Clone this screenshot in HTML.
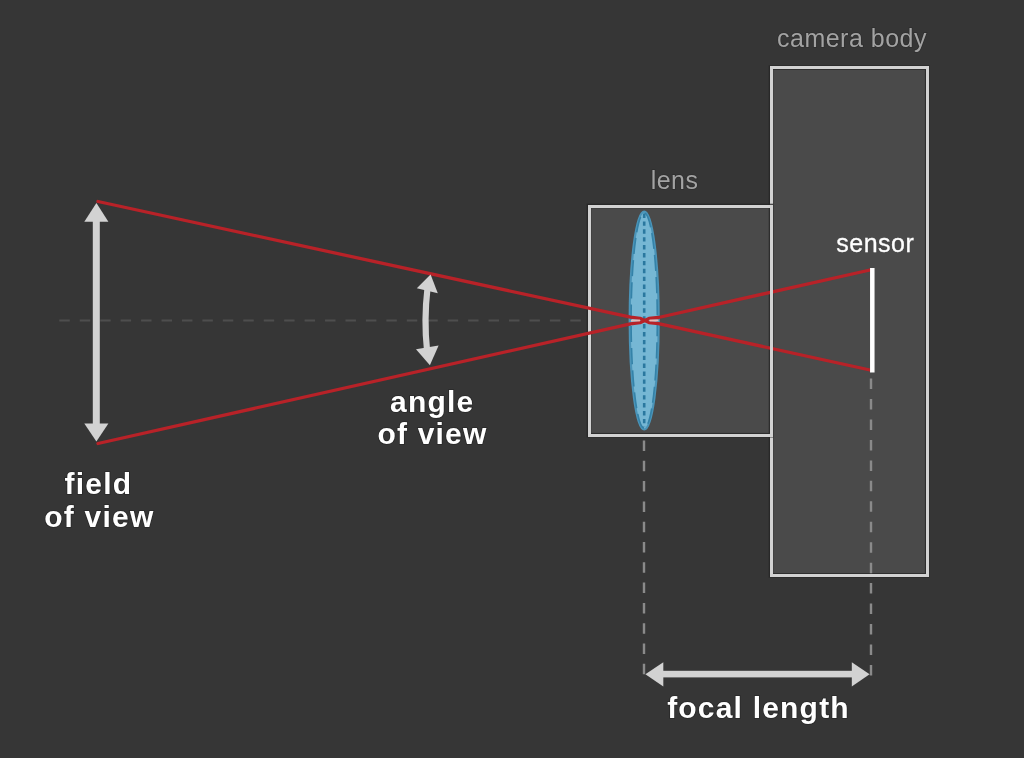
<!DOCTYPE html>
<html><head><meta charset="utf-8">
<style>
html,body{margin:0;padding:0;background:#363636;width:1024px;height:758px;overflow:hidden}
svg{display:block;will-change:transform}
text{font-family:"Liberation Sans",sans-serif}
.t{opacity:0.999}
.b{font-weight:bold;font-size:30px;fill:#ffffff;letter-spacing:1.2px;stroke:#222;stroke-width:1.6px;paint-order:stroke;stroke-opacity:0.7}
.g{font-size:25px;fill:#a3a3a3;letter-spacing:0.5px;stroke:#262626;stroke-width:1.4px;paint-order:stroke;stroke-opacity:0.5}
</style></head><body>
<svg width="1024" height="758" viewBox="0 0 1024 758">
<rect width="1024" height="758" fill="#363636"/>
<!-- horizontal optical axis dashed -->
<line x1="59.3" y1="320.5" x2="588" y2="320.5" stroke="#4e4e4e" stroke-width="2" stroke-dasharray="10.5 9.94"/>
<!-- camera body -->
<rect x="771" y="67.6" width="156.2" height="507.8" fill="#4a4a4a" stroke="#262626" stroke-width="4.6" stroke-opacity="0.8"/>
<rect x="771" y="67.6" width="156.2" height="507.8" fill="none" stroke="#d2d2d2" stroke-width="3" shape-rendering="crispEdges"/>
<!-- lens box -->
<rect x="589" y="206" width="182" height="229.2" fill="#4a4a4a" stroke="#262626" stroke-width="4.6" stroke-opacity="0.8"/>
<rect x="589" y="206" width="182" height="229.2" fill="none" stroke="#d2d2d2" stroke-width="3" shape-rendering="crispEdges"/>
<line x1="771" y1="206" x2="771" y2="435" stroke="#d2d2d2" stroke-width="3" shape-rendering="crispEdges"/>
<!-- vertical dashed lines -->
<line x1="644" y1="440.5" x2="644" y2="676" stroke="#8a8a8a" stroke-width="2.4" stroke-dasharray="10.5 9.8"/>
<line x1="871" y1="378.6" x2="871" y2="682" stroke="#8a8a8a" stroke-width="2.4" stroke-dasharray="10.5 9.95"/>
<!-- lens -->
<ellipse cx="644.2" cy="320.5" rx="14.5" ry="109" fill="#76b7d4" stroke="#4b94b8" stroke-width="2.2"/>
<ellipse cx="644.2" cy="320.5" rx="13.1" ry="107.6" fill="none" stroke="#3482a8" stroke-width="1.6" stroke-dasharray="16 6"/>
<line x1="644.2" y1="213.5" x2="644.2" y2="427" stroke="#2a789f" stroke-width="2.6" stroke-dasharray="4.4 3.5"/>
<!-- red rays -->
<g stroke="#b82228" stroke-width="3.3" fill="none" stroke-linecap="round">
<polyline points="98,201.5 630.5,317.2 640,318.3 649,322.6 658.5,323.7 870,370" stroke-linejoin="round"/>
<polyline points="98,443.5 630.5,323.8 640,322.7 649,318.4 658.5,317.5 870,270" stroke-linejoin="round"/>
</g>
<line x1="631" y1="320.5" x2="640" y2="320.5" stroke="#eab8b4" stroke-width="1.8"/>
<line x1="649.5" y1="320.5" x2="658.5" y2="320.5" stroke="#eab8b4" stroke-width="1.8"/>
<line x1="771" y1="240" x2="771" y2="400" stroke="#d2d2d2" stroke-width="3" shape-rendering="crispEdges"/>
<!-- sensor -->
<line x1="872.3" y1="268" x2="872.3" y2="372.5" stroke="#ffffff" stroke-width="4.5"/>
<!-- field of view arrow -->
<g fill="#d2d2d2">
<rect x="92.8" y="218" width="7" height="209"/>
<polygon points="96.4,203 84.3,221.7 108.4,221.7"/>
<polygon points="96.4,441.6 84.3,423.4 108.4,423.4"/>
</g>
<!-- angle of view arrow -->
<g fill="#d2d2d2">
<path d="M427.5 288 Q423.8 320 427 350" stroke="#d2d2d2" stroke-width="6.2" fill="none"/>
<polygon points="430.6,274.4 416.8,288.2 437.8,293.3"/>
<polygon points="429.9,365.2 416,349.2 438.6,345.6"/>
</g>
<!-- focal length arrow -->
<g fill="#d2d2d2">
<rect x="660" y="670.8" width="195" height="6.6"/>
<polygon points="645.4,674.2 663.3,662.2 663.3,686.5"/>
<polygon points="869.6,674.2 851.8,662.2 851.8,686.5"/>
</g>
<!-- labels -->
<g class="t">
<text class="g" x="852" y="46.8" text-anchor="middle">camera body</text>
<text class="g" x="674.6" y="188.6" text-anchor="middle">lens</text>
<text class="g" x="875.3" y="252" text-anchor="middle" style="fill:#ffffff;stroke:#ffffff;stroke-width:0.3px;stroke-opacity:1">sensor</text>
<text class="b" x="98.4" y="493.5" text-anchor="middle">field</text>
<text class="b" x="99.4" y="527" text-anchor="middle">of view</text>
<text class="b" x="432.2" y="411.7" text-anchor="middle">angle</text>
<text class="b" x="432.5" y="444" text-anchor="middle">of view</text>
<text class="b" x="758.5" y="718.2" text-anchor="middle">focal length</text>
</g>
</svg>
</body></html>
